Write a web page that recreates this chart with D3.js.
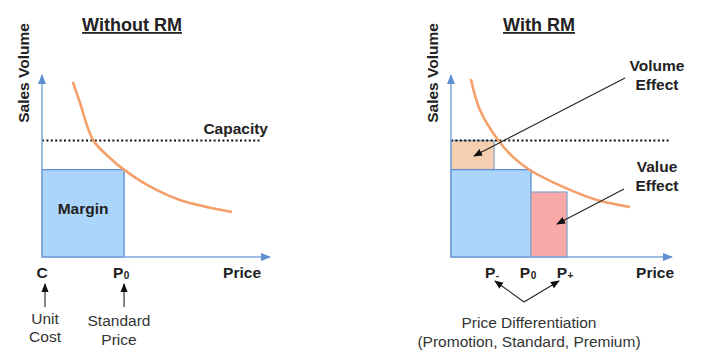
<!DOCTYPE html>
<html><head><meta charset="utf-8">
<script src="https://cdn.jsdelivr.net/npm/d3@7"></script>
<style>body{margin:0;background:#fff}svg{display:block}text{font-family:"Liberation Sans",Arial,sans-serif}</style>
</head><body><svg id="c" width="724" height="361"></svg>
<script>
// ---- data (price / volume units, 0..100) ----
const capacity = 64;
const leftCurve = [[13.5,96.3],[16.7,84.6],[22.4,64.3],[29.8,54.4],[35.5,48.4],[46.1,39.6],[60.5,31.3],[83.3,24.7]];
const rightCurve = [[9.0,97.8],[13.1,80.8],[21.3,64.3],[28.1,54.9],[35.7,47.8],[50.7,38.5],[66.1,31.3],[81.0,27.5]];
const leftPrices = {C:0, P0:36};
const leftVolume = 48;
const rightPrices = {Pminus:19.5, P0:36.2, Pplus:52.5};
const rightVolumes = {Pminus:64, P0:48, Pplus:35.7};
const leftTicks = ["C","P0"];
const rightTicks = ["P-","P0","P+"];

const FS = "15.5px", FT = "18px";
const svg = d3.select("#c");
const defs = svg.append("defs");
function mk(id,color,size){
  defs.append("marker").attr("id",id).attr("viewBox","0 0 10 10").attr("refX",9).attr("refY",5)
   .attr("markerWidth",size).attr("markerHeight",size).attr("orient","auto").attr("markerUnits","userSpaceOnUse")
   .append("path").attr("d","M0,1L10,5L0,9Z").attr("fill",color);
}
mk("ab","#5f8fd3",10); mk("ak","#111",9);

const axisCol="#7ea7de", blueFill="#acd5fb", blueStroke="#5f8ed1", curveCol="#f5a06a";

function panel(x0,x1,cfg){
  const x=d3.scaleLinear().domain([0,100]).range([x0,x1]);
  const y=d3.scaleLinear().domain([0,100]).range([257,75]);
  const g=svg.append("g");
  cfg.rects.forEach(r=>{
    g.append("rect").attr("x",x(r.a)).attr("y",y(r.v)).attr("width",x(r.b)-x(r.a)).attr("height",y(0)-y(r.v))
     .attr("fill",r.fill).attr("stroke",r.stroke).attr("stroke-width",1.3);
  });
  g.append("line").attr("x1",x(0)).attr("x2",x(cfg.capEnd)).attr("y1",y(capacity)).attr("y2",y(capacity))
   .attr("stroke","#111").attr("stroke-width",2).attr("stroke-dasharray","2,2.4");
  g.append("path").datum(cfg.curve).attr("fill","none").attr("stroke",curveCol).attr("stroke-width",2.6)
   .attr("d",d3.line().x(d=>x(d[0])).y(d=>y(d[1])).curve(d3.curveCatmullRom));
  g.append("line").attr("x1",x(0)).attr("x2",x(0)).attr("y1",y(0)).attr("y2",y(100)).attr("stroke",axisCol).attr("stroke-width",1.5).attr("marker-end","url(#ab)");
  g.append("line").attr("x1",x(0)).attr("x2",x(100)).attr("y1",y(0)).attr("y2",y(0)).attr("stroke",axisCol).attr("stroke-width",1.5).attr("marker-end","url(#ab)");
  return {x,y,g};
}
function sub(t,main,s){
  t.append("tspan").text(main);
  if(s) t.append("tspan").attr("font-size","10px").attr("dx",0.5).attr("dy",1).text(s);
}
function bold(x,y,txt,anchor,size){
  return svg.append("text").attr("x",x).attr("y",y).attr("text-anchor",anchor||"middle").attr("font-size",size||FS).attr("font-weight","bold").attr("fill","#222").text(txt);
}
function plain(x,y,txt){
  return svg.append("text").attr("x",x).attr("y",y).attr("text-anchor","middle").attr("font-size",FS).attr("fill","#333").text(txt);
}

// ---- Left ----
const L=panel(42,270,{
  capEnd:96, curve:leftCurve,
  rects:[{a:leftPrices.C,b:leftPrices.P0,v:leftVolume,fill:blueFill,stroke:blueStroke}]
});
bold(132,31,"Without RM","middle",FT).attr("text-decoration","underline");
svg.append("text").attr("transform","translate(28.5,73) rotate(-90)").attr("text-anchor","middle").attr("font-size",FS).attr("font-weight","bold").attr("fill","#222").text("Sales Volume");
bold(268,133.5,"Capacity","end");
bold(L.x(leftPrices.P0/2),213.5,"Margin");
bold(261,277.5,"Price","end");
[[leftPrices.C,"C","",0],[leftPrices.P0,"P","0",-3]].forEach(d=>{
  const t=svg.append("text").attr("x",L.x(d[0])+d[3]).attr("y",277.5).attr("text-anchor","middle").attr("font-size",FS).attr("font-weight","bold").attr("fill","#222");
  sub(t,d[1],d[2]);
});
[[leftPrices.C,3],[leftPrices.P0,0]].forEach(d=>{
  svg.append("line").attr("x1",L.x(d[0])+d[1]).attr("x2",L.x(d[0])+d[1]).attr("y1",307).attr("y2",284).attr("stroke","#333").attr("stroke-width",1.2).attr("marker-end","url(#ak)");
});
plain(45,323.5,"Unit"); plain(45,341.5,"Cost"); plain(119,326,"Standard"); plain(119,345,"Price");

// ---- Right ----
const R=panel(451,672,{
  capEnd:99, curve:rightCurve,
  rects:[
    {a:0,b:rightPrices.Pminus,v:rightVolumes.Pminus,fill:"#f6cfb1",stroke:"#8fa6c8"},
    {a:0,b:rightPrices.P0,v:rightVolumes.P0,fill:blueFill,stroke:blueStroke},
    {a:rightPrices.P0,b:rightPrices.Pplus,v:rightVolumes.Pplus,fill:"#f9a9a8",stroke:"#8fa6c8"}
  ]
});
bold(539,31,"With RM","middle",FT).attr("text-decoration","underline");
svg.append("text").attr("transform","translate(437.5,73) rotate(-90)").attr("text-anchor","middle").attr("font-size",FS).attr("font-weight","bold").attr("fill","#222").text("Sales Volume");
bold(657,70.5,"Volume"); bold(657,89.5,"Effect"); bold(657,171.5,"Value"); bold(657,190.5,"Effect");
bold(674,277.5,"Price","end");
[[rightPrices.Pminus,"P","-",-2],[rightPrices.P0,"P","0",-3],[rightPrices.Pplus,"P","+",-2]].forEach(d=>{
  const t=svg.append("text").attr("x",R.x(d[0])+d[3]).attr("y",277.5).attr("text-anchor","middle").attr("font-size",FS).attr("font-weight","bold").attr("fill","#222");
  sub(t,d[1],d[2]);
});
[[625,78,474,156],[624,189,557,224],[524,302,495,281],[524,302,559,281]].forEach(d=>{
  svg.append("line").attr("x1",d[0]).attr("y1",d[1]).attr("x2",d[2]).attr("y2",d[3]).attr("stroke","#222").attr("stroke-width",1.1).attr("marker-end","url(#ak)");
});
plain(529,327.5,"Price Differentiation");
plain(529,346.5,"(Promotion, Standard, Premium)");
</script></body></html>
